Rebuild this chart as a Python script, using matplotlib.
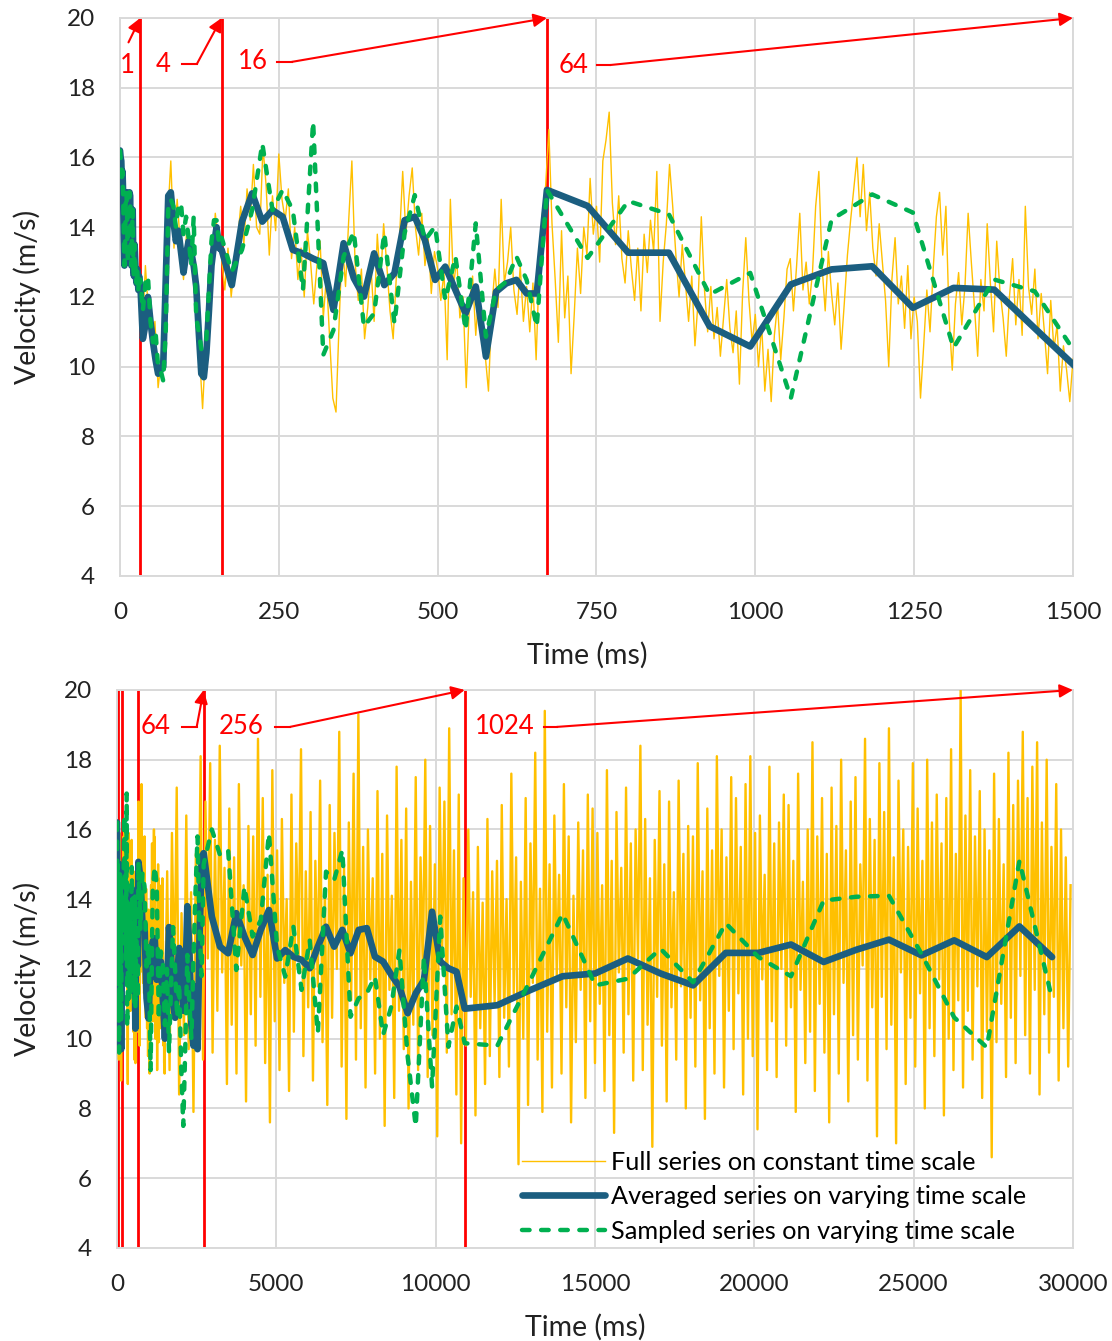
import matplotlib
matplotlib.use('Agg')
import matplotlib.pyplot as plt
from matplotlib.lines import Line2D
import numpy as np

# ---- data -------------------------------------------------------------
# full series, 5 ms steps from 0 to 1495 ms
full_early = [
    16.2, 14.9, 15.0, 13.0, 14.5, 12.6, 12.6, 10.9, 12.9, 11.5,
    10.6, 11.3, 9.4, 10.2, 10.8, 14.2, 15.9, 13.4, 14.8, 13.5,
    12.5, 13.9, 13.2, 12.6, 11.8, 10.4, 8.8, 10.6, 11.9, 13.0,
    14.4, 13.6, 13.1, 12.2, 13.4, 12.0, 12.9, 13.6, 14.6, 13.5,
    15.1, 14.2, 15.8, 14.0, 13.8, 16.3, 15.2, 13.2, 14.9, 13.9,
    16.1, 14.8, 14.2, 15.1, 13.1, 14.0, 12.5, 13.4, 12.0, 13.9,
    13.0, 11.8, 12.9, 13.6, 11.4, 12.6, 10.8, 9.1, 8.7, 11.3,
    13.6, 12.3, 14.2, 15.9, 13.0, 11.9, 12.8, 10.8, 11.7, 12.9,
    11.3, 13.8, 12.4, 14.1, 12.9, 11.6, 10.8, 12.6, 13.7, 15.6,
    13.8, 14.9, 15.7, 14.0, 13.2, 14.4, 12.9, 13.7, 12.1, 13.3,
    12.8, 11.9, 12.7, 10.2, 14.8, 12.3, 13.1, 11.4, 12.0, 9.4,
    11.8, 12.6, 10.9, 12.2, 11.1, 10.3, 9.3, 11.6, 12.8, 11.7,
    14.8, 12.4, 13.0, 14.0, 12.2, 11.5, 12.9, 11.3, 12.3, 11.0,
    12.4, 10.2, 12.9, 14.4, 15.2, 16.8, 14.1, 12.5, 10.7, 13.9,
    11.4, 12.6, 9.8, 11.5, 13.4, 12.1, 14.0, 13.2, 15.4, 13.8,
    14.6, 13.0, 15.9, 16.5, 17.3, 14.7, 13.5, 14.9, 13.1, 12.4,
    13.9, 12.8, 11.9, 13.4, 11.6, 13.8, 12.7, 14.2, 13.3, 15.6,
    11.3, 13.0, 14.1, 15.8, 14.6, 13.2, 12.0, 13.5, 12.4, 11.3,
    12.6, 10.6, 11.9, 14.3, 12.2, 11.0, 12.3, 10.8, 11.7, 10.3,
    11.4, 12.5, 11.1, 10.4, 11.6, 9.5, 12.1, 13.7, 11.9, 10.7,
    11.5, 10.0, 11.2, 9.3, 10.5, 9.0, 10.9, 11.8, 10.2, 11.4,
    12.8, 13.1, 11.6, 12.9, 14.4, 12.2, 13.0, 11.8, 12.7, 14.6,
    15.6, 12.9, 11.6, 13.3, 12.1, 11.2, 12.4, 10.5, 11.8, 13.2,
    14.2, 15.1, 16.0, 14.3, 15.8, 13.9, 15.0, 13.4, 12.6, 14.1,
    13.0, 11.9, 10.0, 12.5, 13.7, 11.8, 12.6, 11.1, 12.9, 10.8,
    12.0, 11.3, 9.1, 10.6, 12.2, 11.0, 12.8, 14.3, 15.0, 13.2,
    14.6, 11.4, 9.9, 11.8, 12.7, 11.2, 12.3, 14.4, 13.0, 11.7,
    10.3, 12.5, 11.6, 14.1, 12.4, 11.0, 13.6, 12.2, 11.4, 10.3,
    12.0, 13.1, 11.2, 12.5, 10.9, 14.6, 12.3, 11.5, 12.8, 10.8,
    12.1, 11.0, 9.8, 11.9, 10.5, 11.2, 9.3, 10.6, 9.9, 9.0,
]
# full series, 75 ms steps from 1500 to 29925 ms
full_late = [
    10.2, 14.8, 9.1, 15.9, 11.3, 17.2, 8.4, 13.6, 10.1, 16.4, 9.7, 14.2, 7.9, 15.3, 11.8, 18.1, 9.4, 16.8, 12.3, 17.9,
    9.6, 15.7, 10.8, 18.4, 11.9, 14.9, 8.7, 16.6, 10.4, 15.2, 9.0, 17.3, 12.1, 14.4, 8.2, 16.1, 10.7, 15.8, 9.8, 18.6,
    11.2, 16.9, 9.3, 14.7, 7.6, 17.7, 10.5, 15.4, 9.1, 16.3, 11.6, 14.0, 8.5, 17.0, 10.2, 15.6, 12.4, 18.3, 9.5, 14.8,
    10.9, 16.5, 8.8, 15.1, 11.5, 17.4, 9.9, 14.3, 8.1, 16.7, 10.6, 15.9, 12.0, 18.8, 9.2, 15.0, 7.7, 16.2, 11.1, 17.6,
    9.4, 19.3, 10.3, 15.5, 8.6, 16.0, 11.7, 14.6, 9.0, 17.1, 10.0, 15.3, 7.5, 16.4, 11.4, 14.1, 8.3, 17.8, 10.8, 15.7,
    9.7, 16.6, 8.0, 14.5, 10.4, 17.5, 9.1, 15.2, 11.9, 18.0, 8.9, 16.1, 10.1, 15.0, 7.2, 17.2, 12.2, 16.8, 9.6, 18.9,
    10.7, 15.4, 8.4, 17.0, 7.0, 14.6, 9.8, 16.0, 11.2, 14.2, 7.8, 15.5, 10.3, 13.9, 8.7, 16.3, 9.5, 14.8, 11.0, 15.1,
    8.9, 16.7, 10.6, 14.0, 9.2, 17.6, 11.3, 15.2, 6.4, 14.5, 10.0, 16.9, 8.1, 15.6, 11.6, 18.2, 9.4, 14.3, 7.9, 19.4,
    10.2, 15.0, 8.6, 16.4, 11.8, 14.7, 9.0, 17.3, 10.9, 15.8, 7.6, 14.1, 9.9, 16.2, 11.4, 15.4, 8.3, 17.0, 10.5, 16.6,
    9.3, 15.9, 11.0, 14.4, 8.5, 17.7, 10.1, 15.1, 7.3, 16.5, 11.9, 14.9, 9.6, 17.2, 10.7, 15.6, 8.8, 16.0, 12.3, 18.4,
    9.1, 16.3, 10.4, 14.6, 6.9, 15.7, 11.2, 17.1, 9.8, 15.0, 8.2, 16.8, 10.9, 14.2, 9.4, 17.4, 11.5, 15.3, 8.0, 16.1,
    10.6, 15.8, 9.2, 17.9, 11.1, 14.8, 7.7, 16.6, 10.3, 15.4, 9.0, 18.1, 11.8, 16.0, 8.6, 15.2, 10.8, 17.5, 9.7, 16.9,
    11.3, 15.5, 8.4, 17.3, 10.0, 18.1, 9.5, 15.9, 7.4, 16.4, 11.7, 14.7, 9.1, 17.8, 10.5, 15.6, 8.9, 16.2, 12.0, 17.0,
    9.8, 16.7, 10.9, 15.1, 7.9, 17.6, 11.4, 14.5, 9.3, 16.0, 10.2, 18.5, 8.5, 15.8, 11.0, 16.9, 9.6, 15.3, 7.6, 17.2,
    10.7, 16.1, 9.0, 18.0, 11.6, 15.4, 8.2, 16.8, 10.1, 17.5, 9.4, 15.0, 12.1, 18.6, 8.8, 16.3, 10.9, 15.7, 7.2, 17.9,
    11.2, 16.5, 9.7, 18.9, 10.4, 15.2, 7.0, 17.4, 11.9, 16.0, 8.7, 15.5, 10.6, 17.9, 9.2, 16.6, 11.3, 15.1, 8.0, 18.0,
    10.3, 16.2, 9.5, 17.0, 11.7, 15.6, 7.8, 16.9, 10.0, 18.3, 9.1, 15.3, 11.1, 20.0, 8.6, 16.4, 10.8, 17.7, 9.4, 15.8,
    11.5, 17.1, 8.3, 16.0, 10.2, 15.4, 6.6, 17.6, 9.9, 16.3, 11.0, 15.0, 8.9, 18.2, 10.6, 16.7, 9.3, 17.4, 11.8, 18.8,
    10.1, 16.9, 9.0, 17.8, 11.4, 18.5, 8.4, 16.2, 10.7, 18.0, 9.6, 15.5, 11.2, 17.3, 8.8, 16.0, 10.3, 15.2, 9.2, 14.4,
]

# varying time scale: window size (ms) and start of each section
windows = [1, 4, 16, 64, 256, 1024]
starts = [0, 32, 160, 672, 2720, 10912]
window_labels = ['1', '4', '16', '64', '256', '1024']

raw_first = [16.2, 16.0, 15.9, 15.3, 15.6, 14.9, 13.8, 12.9, 13.4, 14.8, 15.0, 14.6, 13.2, 13.0, 14.2, 15.0,
             14.9, 13.1, 12.9, 13.8, 14.5, 12.8, 12.6, 13.5, 13.0, 12.6, 12.4, 12.8, 12.5, 12.2, 12.6, 12.4]

avg_w4 = [12.4, 10.8, 11.2, 12.0, 11.3, 10.7, 10.2, 9.8, 9.9, 10.0, 12.5, 14.9, 15.0, 14.2, 13.6, 13.9,
          13.3, 12.7, 13.2, 13.6, 13.3, 12.9, 12.3, 11.0, 9.8, 9.7, 10.4, 11.6, 12.9, 13.5, 14.0, 13.4]
avg_w16 = [13.35, 12.34, 14.16, 14.97, 14.16, 14.49, 14.30, 13.35, 13.25, 13.1, 12.97, 11.63, 13.54, 12.54, 12.01, 13.25,
           12.34, 12.68, 14.2, 14.3, 13.63, 12.49, 12.87, 12.2, 11.53, 12.3, 10.29, 12.15, 12.39, 12.49, 12.1, 12.1]
avg_w64 = [15.07, 14.61, 13.27, 13.27, 11.16, 10.58, 12.36, 12.79, 12.88, 11.69, 12.26, 12.21, 11.1, 10.0, 11.2, 13.2,
           12.4, 11.0, 10.6, 11.8, 12.6, 12.2, 10.8, 11.5, 13.8, 12.5, 10.4, 9.8, 11.5, 9.7, 13.0, 15.2]
avg_w256 = [15.32, 13.5, 12.64, 12.45, 13.6, 12.93, 12.4, 13.12, 13.69, 12.3, 12.54, 12.35, 12.26, 12.02, 12.64, 13.21,
            12.64, 13.12, 12.45, 13.12, 13.17, 12.35, 12.21, 11.83, 11.49, 10.73, 11.30, 11.68, 13.64, 12.21, 12.02, 11.92]
avg_w1024 = [10.86, 10.96, 11.39, 11.79, 11.87, 12.3, 11.87, 11.53, 12.46, 12.46, 12.7, 12.2, 12.55, 12.84, 12.39,
             12.82, 12.34, 13.22, 12.34]

smp_w4 = [12.5, 11.6, 12.4, 12.6, 11.3, 10.7, 11.0, 10.0, 9.9, 9.6, 11.0, 14.6, 14.8, 14.6, 14.0, 14.6,
          14.7, 13.8, 14.3, 13.7, 12.9, 14.3, 11.4, 11.0, 10.5, 10.6, 10.8, 12.2, 13.6, 14.2, 14.2, 13.5]
smp_w16 = [13.7, 12.73, 13.35, 14.49, 16.4, 14.49, 15.07, 14.49, 12.2, 17.03, 10.34, 11.05, 13.16, 13.87, 11.15, 11.53,
           13.83, 11.24, 13.83, 14.92, 13.63, 14.02, 11.91, 13.16, 11.05, 14.11, 10.86, 12.2, 12.44, 13.16, 12.49, 11.15]
smp_w64 = [15.07, 13.12, 14.75, 14.37, 12.07, 12.69, 9.1, 14.22, 14.94, 14.42, 10.54, 12.5, 12.16, 10.39, 12.0, 9.6,
           11.5, 13.2, 12.0, 10.6, 11.6, 9.2, 7.5, 9.8, 12.4, 11.0, 10.0, 12.3, 14.2, 15.8, 13.0, 11.8]
smp_w256 = [15.0, 16.0, 15.27, 15.41, 11.97, 14.36, 12.93, 13.4, 15.89, 12.64, 11.78, 13.21, 11.4, 12.83, 10.16, 14.79,
            14.55, 15.41, 10.63, 11.16, 11.3, 11.78, 10.11, 10.92, 12.54, 9.5, 7.48, 12.35, 8.62, 13.5, 9.77, 10.92]
smp_w1024 = [9.87, 9.8, 11.66, 13.58, 11.53, 11.72, 12.58, 11.62, 13.31, 12.34, 11.79, 13.96, 14.07, 14.1, 12.43,
             10.61, 9.75, 15.1, 11.14]

# ---- build series ------------------------------------------------------
full_t = np.concatenate([np.arange(len(full_early)) * 5, 1500 + np.arange(len(full_late)) * 75])
full_v = np.array(full_early + full_late)

avg_parts = [raw_first, avg_w4, avg_w16, avg_w64, avg_w256, avg_w1024]
smp_parts = [raw_first, smp_w4, smp_w16, smp_w64, smp_w256, smp_w1024]
var_t = np.concatenate([s + w * np.arange(len(p)) for s, w, p in zip(starts, windows, avg_parts)])
avg_v = np.concatenate(avg_parts)
smp_v = np.concatenate(smp_parts)

ORANGE = '#FFC000'
BLUE = '#1B5E80'
GREEN = '#00B050'
RED = '#FF0000'
GRID = '#D9D9D9'
TXT = '#222222'

plt.rcParams['font.family'] = ['Lato', 'DejaVu Sans']

fig = plt.figure(figsize=(11.12, 13.41), dpi=100)
ax1 = fig.add_axes([0.1079, 0.5705, 0.857, 0.4161])
ax2 = fig.add_axes([0.1052, 0.0694, 0.8597, 0.4161])


def style_axes(ax, xmax, xstep):
    ax.set_xlim(0, xmax)
    ax.set_ylim(4, 20)
    ax.set_xticks(np.arange(0, xmax + 1, xstep))
    ax.set_yticks(np.arange(4, 21, 2))
    ax.grid(True, color=GRID, lw=1.4)
    ax.set_axisbelow(True)
    for sp in ax.spines.values():
        sp.set_color(GRID)
        sp.set_linewidth(1.4)
    ax.tick_params(length=0, labelsize=17.5, colors=TXT)
    ax.tick_params(axis='y', pad=18)
    ax.tick_params(axis='x', pad=19)
    ax.set_xlabel('Time (ms)', fontsize=20.5, color=TXT)
    ax.set_ylabel('Velocity (m/s)', fontsize=20.5, color=TXT)


def draw_series(ax, orange_lw):
    ax.plot(full_t, full_v, color=ORANGE, lw=orange_lw, zorder=3)
    ax.plot(var_t, avg_v, color=BLUE, lw=4.8, solid_joinstyle='round', solid_capstyle='round', zorder=4)
    ax.plot(var_t, smp_v, color=GREEN, lw=3.2, dashes=(1.7, 2.6), dash_capstyle='round', zorder=5)


def draw_windows(ax, xmax, labels):
    for s in starts[1:]:
        if s < xmax:
            ax.axvline(s, color=RED, lw=2, zorder=2)
    for i, tx, ty, d0, d1 in labels:
        tip = min(starts[i + 1], xmax) if i + 1 < len(starts) else xmax
        ax.text(tx, ty, window_labels[i], color=RED, fontsize=18.5, ha='center', va='center', zorder=6)
        if d0 is not None:
            ax.plot([d0, d1], [ty, ty], color=RED, lw=1.5, zorder=6, clip_on=False)
        ax.annotate('', xy=(tip, 20), xytext=(d1, ty if d0 is not None else 19.3),
                    arrowprops=dict(arrowstyle='-|>', color=RED, lw=1.5, mutation_scale=20,
                                    shrinkA=0, shrinkB=0), zorder=6, annotation_clip=False)


# top chart: first 1500 ms
style_axes(ax1, 1500, 250)
draw_series(ax1, 1.0)
draw_windows(ax1, 1500, [(0, 11, 18.65, None, 13.4),
                         (1, 68.5, 18.68, 97, 121),
                         (2, 208.6, 18.74, 246.6, 270.2),
                         (3, 714.6, 18.65, 750.8, 771.3)])

# bottom chart: whole run
style_axes(ax2, 30000, 5000)
draw_series(ax2, 1.7)
draw_windows(ax2, 30000, [(3, 1224, 18.94, 2030, 2501),
                          (4, 3891, 18.94, 4958, 5429),
                          (5, 12175, 18.94, 13390, 13800)])

for ax, xl, yl in [(ax1, -0.143, -0.0976), (ax2, -0.143, -0.0941)]:
    ax.xaxis.label.set_va('center')
    ax.xaxis.set_label_coords(0.49, xl)
    ax.yaxis.label.set_va('center')
    ax.yaxis.set_label_coords(yl, 0.5)

handles = [Line2D([], [], color=ORANGE, lw=1.0),
           Line2D([], [], color=BLUE, lw=4.8, solid_capstyle='round'),
           Line2D([], [], color=GREEN, lw=3.2, dashes=(1.7, 2.6), dash_capstyle='round')]
names = ['Full series on constant time scale',
         'Averaged series on varying time scale',
         'Sampled series on varying time scale']
ax2.legend(handles, names, loc='upper left', bbox_to_anchor=(0.4236, 0.174), frameon=False,
           fontsize=18.2, handlelength=3.28, handletextpad=0.24, labelspacing=0.45, borderpad=0,
           borderaxespad=0)

fig.savefig('out.png', dpi=100)
